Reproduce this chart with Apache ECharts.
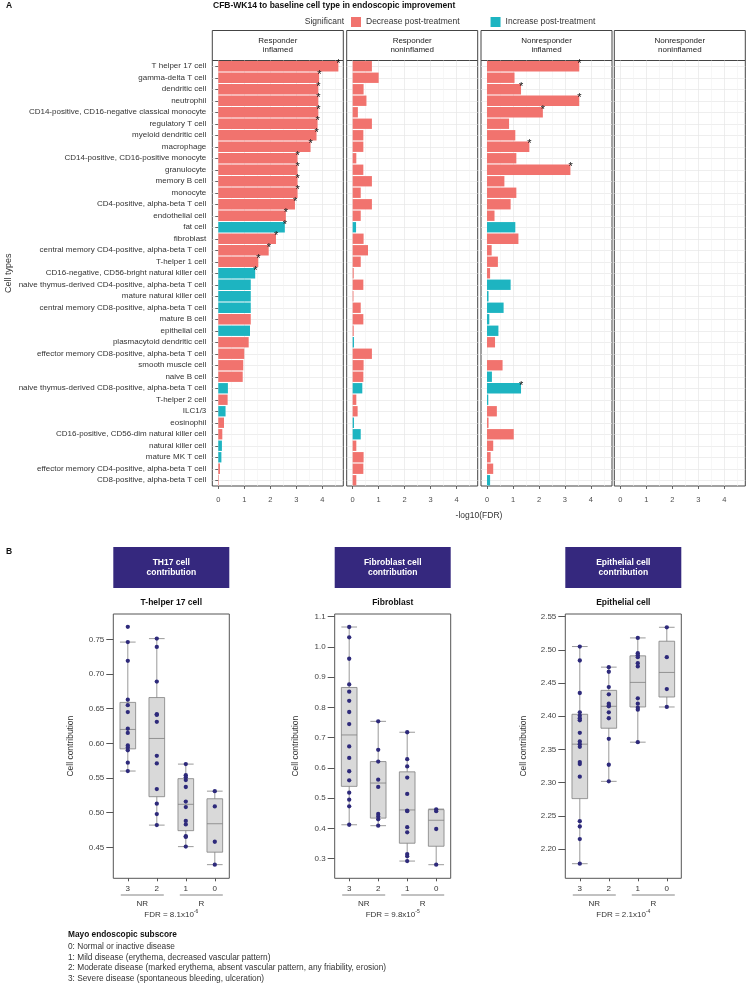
<!DOCTYPE html>
<html><head><meta charset="utf-8">
<script src="https://cdn.jsdelivr.net/npm/echarts@6/dist/echarts.min.js"></script>
<style>html,body{margin:0;padding:0;background:#fff}#c{width:748px;height:985px}</style>
</head><body><div id="c"></div>
<script>
// ---------- Panel A data ----------
const cellTypes = ['T helper 17 cell','gamma-delta T cell','dendritic cell','neutrophil','CD14-positive, CD16-negative classical monocyte','regulatory T cell','myeloid dendritic cell','macrophage','CD14-positive, CD16-positive monocyte','granulocyte','memory B cell','monocyte','CD4-positive, alpha-beta T cell','endothelial cell','fat cell','fibroblast','central memory CD4-positive, alpha-beta T cell','T-helper 1 cell','CD16-negative, CD56-bright natural killer cell','naive thymus-derived CD4-positive, alpha-beta T cell','mature natural killer cell','central memory CD8-positive, alpha-beta T cell','mature B cell','epithelial cell','plasmacytoid dendritic cell','effector memory CD8-positive, alpha-beta T cell','smooth muscle cell','naive B cell','naive thymus-derived CD8-positive, alpha-beta T cell','T-helper 2 cell','ILC1/3','eosinophil','CD16-positive, CD56-dim natural killer cell','natural killer cell','mature MK T cell','effector memory CD4-positive, alpha-beta T cell','CD8-positive, alpha-beta T cell'];
const facetNames = ['Responder\ninflamed','Responder\nnoninflamed','Nonresponder\ninflamed','Nonresponder\nnoninflamed'];
const respInflamed = [4.62,3.88,3.85,3.85,3.85,3.82,3.78,3.55,3.05,3.05,3.05,3.05,2.95,2.60,2.56,2.22,1.94,1.54,1.42,1.25,1.25,1.25,1.25,1.22,1.17,1.00,0.96,0.94,0.37,0.36,0.28,0.22,0.155,0.14,0.12,0.065,0.02];
const respInflamedDir = 'DDDDDDDDDDDDDDIDDDIIIIDIDDDDIDIDDIIDD'.split('');
const respInflamedSig = [1,1,1,1,1,1,1,1,1,1,1,1,1,1,1,1,1,1,1,0,0,0,0,0,0,0,0,0,0,0,0,0,0,0,0,0,0];
const respNonInfl = [0.74,1.0,0.42,0.53,0.2,0.74,0.41,0.41,0.14,0.41,0.74,0.31,0.74,0.31,0.13,0.42,0.59,0.31,0.04,0.41,0.03,0.31,0.41,0.04,0.05,0.74,0.42,0.41,0.37,0.14,0.19,0.05,0.31,0.14,0.42,0.41,0.14];
const respNonInflDir = 'DDDDDDDDDDDDDDIDDDDDDDDDIDDDIDDIIDDDD'.split('');
const respNonInflSig = new Array(37).fill(0);
const nonrespInflamed = [3.55,1.06,1.31,3.55,2.15,0.85,1.09,1.63,1.13,3.21,0.67,1.13,0.91,0.29,1.09,1.21,0.18,0.42,0.12,0.91,0.06,0.64,0.09,0.44,0.31,0,0.6,0.19,1.31,0.05,0.38,0.06,1.03,0.24,0.14,0.24,0.12];
const nonrespInflamedDir = 'DDDDDDDDDDDDDDIDDDDIIIIIDDDIIIDDDDDDI'.split('');
const nonrespInflamedSig = [1,0,1,1,1,0,0,1,0,1,0,0,0,0,0,0,0,0,0,0,0,0,0,0,0,0,0,0,1,0,0,0,0,0,0,0,0];
const nonrespNonInfl = [];
const xTicks = [0,1,2,3,4];
const xMinorTicks = [0.5,1.5,2.5,3.5,4.5];

// ---------- Panel B data ----------
const mayoCats = ['3','2','1','0'];
const th17Box = [[0.560,0.592,0.620,0.659,0.746],[0.482,0.523,0.607,0.666,0.751],[0.451,0.474,0.512,0.549,0.570],[0.425,0.443,0.484,0.520,0.531]];
const th17Pts3 = [0.768,0.746,0.719,0.663,0.655,0.645,0.621,0.615,0.597,0.594,0.590,0.572,0.560];
const th17Pts2 = [0.751,0.739,0.689,0.642,0.641,0.631,0.582,0.571,0.534,0.513,0.498,0.482];
const th17Pts1 = [0.570,0.554,0.551,0.547,0.537,0.516,0.508,0.488,0.483,0.466,0.465,0.451];
const th17Pts0 = [0.531,0.509,0.458,0.425];
const fibBox = [[0.412,0.539,0.709,0.866,1.066],[0.409,0.434,0.550,0.621,0.754],[0.292,0.351,0.461,0.587,0.718],[0.280,0.341,0.427,0.462,0.464]];
const fibPts3 = [1.066,1.032,0.961,0.876,0.852,0.822,0.785,0.745,0.671,0.633,0.589,0.559,0.518,0.495,0.473,0.412];
const fibPts2 = [0.754,0.660,0.621,0.561,0.537,0.448,0.439,0.430,0.409];
const fibPts1 = [0.718,0.629,0.605,0.568,0.514,0.459,0.457,0.404,0.387,0.315,0.308,0.292];
const fibPts0 = [0.463,0.457,0.398,0.280];
const epiBox = [[2.178,2.276,2.358,2.403,2.505],[2.302,2.382,2.415,2.439,2.474],[2.361,2.414,2.451,2.491,2.518],[2.414,2.429,2.466,2.513,2.534]];
const epiPts3 = [2.505,2.484,2.435,2.406,2.401,2.397,2.394,2.375,2.362,2.358,2.354,2.331,2.328,2.309,2.242,2.234,2.215,2.178];
const epiPts2 = [2.474,2.467,2.444,2.433,2.419,2.416,2.415,2.406,2.397,2.366,2.327,2.302];
const epiPts1 = [2.518,2.495,2.492,2.489,2.480,2.475,2.427,2.419,2.413,2.410,2.361];
const epiPts0 = [2.534,2.489,2.441,2.414];
const boxHeaders = ['TH17 cell\ncontribution','Fibroblast cell\ncontribution','Epithelial cell\ncontribution'];
const boxSubtitles = ['T-helper 17 cell','Fibroblast','Epithelial cell'];
const fdrMantissa = ['8.1','9.8','2.1'];
const fdrExponent = ['-6','-5','-4'];
const th17Ticks = [0.45,0.50,0.55,0.60,0.65,0.70,0.75];
const fibTicks = [0.3,0.4,0.5,0.6,0.7,0.8,0.9,1.0,1.1];
const epiTicks = [2.20,2.25,2.30,2.35,2.40,2.45,2.50,2.55];
const mayoLines = ['0: Normal or inactive disease','1: Mild disease (erythema, decreased vascular pattern)','2: Moderate disease (marked erythema, absent vascular pattern, any friability, erosion)','3: Severe disease (spontaneous bleeding, ulceration)'];

// ---------- layout ----------
const FONT = 'Liberation Sans, Arial, sans-serif';
const RED = '#F1736E', TEAL = '#1DB4C1', PURPLE = '#35287E', DOT = '#2E2A7B';
const facetLeft = [212.3, 346.7, 481, 614.3];
const facetW = 131, facetTop = 60.5, facetH = 425.5, stripTop = 30.5;
const boxLeft = [113.3, 334.7, 565.3];
const boxW = 116, boxTop = 614, boxH = 264.3;

const chart = echarts.init(document.getElementById('c'), null, {renderer:'canvas'});
const grids = [], xAxes = [], yAxes = [], series = [], graphics = [];

const facetData = [
  [respInflamed, respInflamedDir, respInflamedSig],
  [respNonInfl, respNonInflDir, respNonInflSig],
  [nonrespInflamed, nonrespInflamedDir, nonrespInflamedSig],
  [nonrespNonInfl, [], []]
];

facetLeft.forEach((L, p) => {
  grids.push({left:L, top:facetTop, width:facetW, height:facetH, show:true, borderColor:'#444', borderWidth:1, backgroundColor:'transparent'});
  xAxes.push({type:'value', gridIndex:p, min:-0.23, max:4.81, position:'bottom',
    axisLine:{show:false},
    axisTick:{show:true, customValues:xTicks, length:3, lineStyle:{color:'#444', width:0.8}},
    axisLabel:{show:true, customValues:xTicks, fontSize:7.5, color:'#4d4d4d', margin:10, fontFamily:FONT},
    splitLine:{show:true, lineStyle:{color:'#E6E6E6', width:0.7}}});
  xAxes.push({type:'value', gridIndex:p, min:-0.23, max:4.81, position:'top',
    axisLine:{show:false}, axisTick:{show:false, customValues:xMinorTicks}, axisLabel:{show:false},
    splitLine:{show:true, lineStyle:{color:'#F2F2F2', width:0.6}}});
  yAxes.push({type:'category', gridIndex:p, data:cellTypes, inverse:true,
    axisLine:{show:false},
    axisTick:{show:p===0, alignWithLabel:true, length:3, interval:0, lineStyle:{color:'#444', width:0.8}},
    axisLabel:{show:p===0, interval:0, fontSize:8, color:'#333', margin:6, fontFamily:FONT},
    splitLine:{show:true, alignWithLabel:true, interval:0, lineStyle:{color:'#E6E6E6', width:0.7}},
    name: p===0 ? 'Cell types' : '', nameLocation:'middle', nameRotate:90, nameGap:199,
    nameTextStyle:{fontSize:9, color:'#333', fontFamily:FONT}});
  const [vals, dirs, sigs] = facetData[p];
  [['D','Decrease post-treatment',RED],['I','Increase post-treatment',TEAL]].forEach(([code,name,color]) => {
    series.push({type:'bar', name, xAxisIndex:p*2, yAxisIndex:p, barGap:'-100%', barCategoryGap:'10%',
      itemStyle:{color}, silent:true,
      label:{show:false, position:'right', formatter:'*', distance:0, offset:[-2,-2.5], fontSize:11, color:'#111', fontFamily:FONT},
      data: cellTypes.map((c,i) => (dirs[i]===code) ? {value:vals[i], label:{show:!!sigs[i]}} : '-')});
  });
  graphics.push({type:'rect', shape:{x:L, y:stripTop, width:facetW, height:facetTop-stripTop}, style:{fill:'#fff', stroke:'#444', lineWidth:1}});
  graphics.push({type:'text', x:L+facetW/2, y:(stripTop+facetTop)/2, style:{text:facetNames[p], fontSize:8, fill:'#222', align:'center', verticalAlign:'middle', lineHeight:9.5, fontFamily:FONT}});
});

// Panel B
const boxSets = [
  [th17Box, [th17Pts3,th17Pts2,th17Pts1,th17Pts0], 0.4053, 0.7865, th17Ticks, 2, 38],
  [fibBox, [fibPts3,fibPts2,fibPts1,fibPts0], 0.235, 1.109, fibTicks, 1, 35],
  [epiBox, [epiPts3,epiPts2,epiPts1,epiPts0], 2.156, 2.554, epiTicks, 2, 37]
];
boxSets.forEach(([box, pts, mn, mx, ticks, dec, ng], k) => {
  const g = 4 + k;
  const L = boxLeft[k];
  grids.push({left:L, top:boxTop, width:boxW, height:boxH, show:true, borderColor:'#555', borderWidth:1, backgroundColor:'transparent'});
  xAxes.push({type:'category', gridIndex:g, data:mayoCats, axisLine:{show:false},
    axisTick:{show:true, alignWithLabel:true, length:3, lineStyle:{color:'#555'}},
    axisLabel:{fontSize:8, color:'#333', margin:6, fontFamily:FONT}});
  yAxes.push({type:'value', gridIndex:g, min:mn, max:mx, axisLine:{show:false},
    axisTick:{show:true, customValues:ticks, length:7, lineStyle:{color:'#555'}},
    axisLabel:{customValues:ticks, fontSize:8, color:'#444', margin:9, fontFamily:FONT, formatter:v => v.toFixed(dec)},
    splitLine:{show:false},
    name:'Cell contribution', nameLocation:'middle', nameRotate:90, nameGap:ng,
    nameTextStyle:{fontSize:8.5, color:'#333', fontFamily:FONT}});
  series.push({type:'boxplot', xAxisIndex:8+k, yAxisIndex:g, boxWidth:['54%','54%'], silent:true,
    itemStyle:{color:'#D9D9D9', borderColor:'#808080', borderWidth:0.8}, data:box});
  const sc = [];
  pts.forEach((arr, ci) => arr.forEach(v => sc.push([mayoCats[ci], v])));
  series.push({type:'scatter', xAxisIndex:8+k, yAxisIndex:g, symbolSize:4.3, silent:true,
    itemStyle:{color:DOT, opacity:1}, z:5, data:sc});
  graphics.push({type:'rect', shape:{x:L, y:547, width:boxW, height:41}, style:{fill:PURPLE}});
  graphics.push({type:'text', x:L+boxW/2, y:567.5, style:{text:boxHeaders[k], fontSize:8.5, fontWeight:'bold', fill:'#fff', align:'center', verticalAlign:'middle', lineHeight:10.5, fontFamily:FONT}});
  graphics.push({type:'text', x:L+boxW/2, y:603, style:{text:boxSubtitles[k], fontSize:8.5, fontWeight:'bold', fill:'#111', align:'center', verticalAlign:'middle', fontFamily:FONT}});
  const band = boxW/4;
  const c = i => L + band*(i+0.5);
  graphics.push({type:'line', shape:{x1:c(0)-7, y1:895, x2:c(1)+7, y2:895}, style:{stroke:'#666', lineWidth:0.8}});
  graphics.push({type:'line', shape:{x1:c(2)-6, y1:895, x2:c(3)+8, y2:895}, style:{stroke:'#666', lineWidth:0.8}});
  graphics.push({type:'text', x:(c(0)+c(1))/2, y:904, style:{text:'NR', fontSize:8, fill:'#333', align:'center', verticalAlign:'middle', fontFamily:FONT}});
  graphics.push({type:'text', x:(c(2)+c(3))/2+1, y:904, style:{text:'R', fontSize:8, fill:'#333', align:'center', verticalAlign:'middle', fontFamily:FONT}});
  graphics.push({type:'text', x:L+boxW/2, y:914.5, style:{text:'FDR = '+fdrMantissa[k]+'x10{s|'+fdrExponent[k]+'}', fontSize:8, fill:'#333', align:'center', verticalAlign:'middle', fontFamily:FONT,
    rich:{s:{fontSize:5, verticalAlign:'top', padding:[0,0,5,0], fill:'#333', fontFamily:FONT}}}});
});

// Titles and legend text
graphics.push({type:'text', x:6, y:6, style:{text:'A', fontSize:8.5, fontWeight:'bold', fill:'#111', verticalAlign:'middle', fontFamily:FONT}});
graphics.push({type:'text', x:6, y:552, style:{text:'B', fontSize:8.5, fontWeight:'bold', fill:'#111', verticalAlign:'middle', fontFamily:FONT}});
graphics.push({type:'text', x:213, y:6, style:{text:'CFB-WK14 to baseline cell type in endoscopic improvement', fontSize:8.5, fontWeight:'bold', fill:'#111', verticalAlign:'middle', fontFamily:FONT}});
graphics.push({type:'text', x:344, y:22, style:{text:'Significant', fontSize:8.5, fill:'#333', align:'right', verticalAlign:'middle', fontFamily:FONT}});
graphics.push({type:'text', x:479, y:516, style:{text:'-log10(FDR)', fontSize:8.5, fill:'#333', align:'center', verticalAlign:'middle', fontFamily:FONT}});
graphics.push({type:'text', x:68, y:935, style:{text:'Mayo endoscopic subscore', fontSize:8.3, fontWeight:'bold', fill:'#111', verticalAlign:'middle', fontFamily:FONT}});
mayoLines.forEach((t,i) => graphics.push({type:'text', x:68, y:946.5+i*10.8, style:{text:t, fontSize:8.3, fill:'#333', verticalAlign:'middle', fontFamily:FONT}}));

chart.setOption({
  animation:false,
  backgroundColor:'#fff',
  grid:grids, xAxis:xAxes, yAxis:yAxes, series,
  legend:{data:['Decrease post-treatment','Increase post-treatment'], left:346, top:12, itemWidth:10, itemHeight:10, itemGap:31, icon:'rect', selectedMode:false,
    textStyle:{fontSize:8.5, color:'#333', fontFamily:FONT}},
  graphic:graphics
});
</script></body></html>
